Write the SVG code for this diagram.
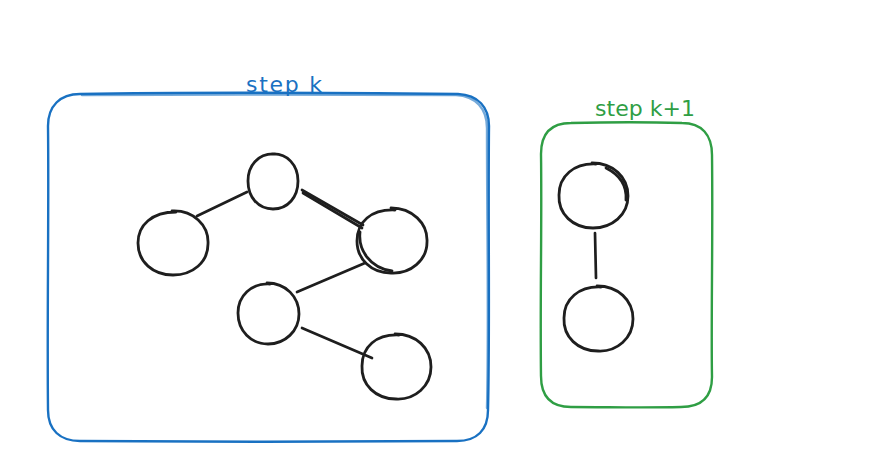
<svg xmlns="http://www.w3.org/2000/svg" width="880" height="464" viewBox="0 0 880 464">
  <style>
    .frame { fill: none; stroke-width: 2.4; stroke-linecap: round; stroke-linejoin: round; }
    .blue { stroke: #1971c2; }
    .green { stroke: #2f9e44; }
    .node { fill: none; stroke: #1e1e1e; stroke-width: 2.8; stroke-linecap: round; }
    .edge { fill: none; stroke: #1e1e1e; stroke-width: 2.7; stroke-linecap: round; }
    .label { font-family: "DejaVu Sans", "Liberation Sans", sans-serif; font-size: 22px; }
  </style>
  <rect width="880" height="464" fill="#ffffff"/>

  <!-- frame: step k -->
  <g id="frame-step-k">
    <path class="frame blue" d="M80 94 C190 92 360 93 458 94 C478 95 489 107 489 126 C488 220 490 330 488 410 C488 430 477 441 457 441 C350 442 190 442 80 441 C60 441 48 430 48 410 C47 320 49 210 48 126 C48 106 60 94 80 94 Z"/>
    <path class="frame blue" d="M82 95 C200 94 350 95 456 95 C476 96 487 109 487 128 C487 230 489 320 487 408" stroke-opacity="0.6"/>
    <text class="label" x="246" y="92" fill="#1971c2" textLength="76" lengthAdjust="spacing">step k</text>
  </g>

  <!-- frame: step k+1 -->
  <g id="frame-step-k1">
    <path class="frame green" d="M571 123 C610 122 650 122 682 123 C702 123 712 135 712 155 C713 240 711 320 712 377 C712 397 701 407 681 407 C640 408 610 407 571 407 C551 407 541 396 541 376 C540 300 542 220 541 154 C541 134 551 123 571 123 Z"/>
    <text class="label" x="595" y="116" fill="#2f9e44" textLength="100" lengthAdjust="spacing">step k+1</text>
  </g>

  <!-- connectors -->
  <g id="connectors">
    <path class="edge" d="M247 192 L197 216"/>
    <path class="edge" d="M302 190 L363 225"/>
    <path class="edge" d="M303 193 L362 228" stroke-width="1.4"/>
    <path class="edge" d="M365 263 L297 292"/>
    <path class="edge" d="M302 328 L372 358"/>
    <path class="edge" d="M595 233 L596 278"/>
  </g>

  <!-- step k nodes -->
  <g id="node-a">
    <path class="node" d="M272 154 C287 153 298 165 298 181 C298 197 288 209 273 209 C258 209 248 197 248 181 C248 166 258 153 275 154"/>
  </g>
  <g id="node-b">
    <path class="node" d="M172 211 C193 210 209 225 208 244 C208 262 193 275 173 275 C153 275 138 262 138 243 C138 225 152 212 176 212"/>
  </g>
  <g id="node-c">
    <path class="node" d="M391 208 C412 208 428 223 427 242 C427 260 411 274 391 273 C371 273 357 259 357 241 C357 222 371 209 395 210"/>
    <path class="node" d="M360 232 C358 250 370 268 392 271" stroke-width="1.6"/>
  </g>
  <g id="node-d">
    <path class="node" d="M267 283 C286 283 299 297 299 314 C299 331 285 344 268 344 C251 344 238 331 238 313 C238 296 251 283 270 284"/>
  </g>
  <g id="node-e">
    <path class="node" d="M395 334 C416 334 431 348 431 367 C431 386 415 400 396 399 C376 399 361 385 362 366 C362 347 376 334 399 335"/>
  </g>

  <!-- step k+1 nodes -->
  <g id="node-f">
    <path class="node" d="M592 163 C613 163 628 177 628 196 C628 215 612 228 593 228 C573 228 558 214 559 195 C559 176 574 163 596 164"/>
    <path class="node" d="M606 168 C620 175 627 186 626 200" stroke-width="1.6"/>
  </g>
  <g id="node-g">
    <path class="node" d="M597 286 C618 286 633 300 633 319 C633 338 617 352 598 351 C578 351 563 337 564 318 C564 299 579 286 601 287"/>
  </g>
</svg>
